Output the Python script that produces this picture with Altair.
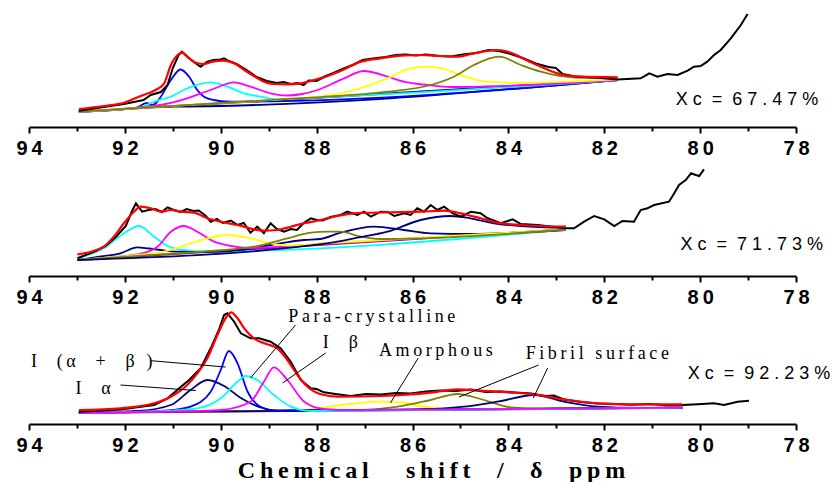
import altair as alt
import pandas as pd

X_DOMAIN = [78, 94]
TICK_VALUES = list(range(78, 95))

# ---------------- top panel (intensity, arbitrary units) ----------------
TOP_EXP = [(92.96,16.3),(92.44,20),(92.02,23),(91.61,27),(91.46,32),(91.25,35),(91.11,42),(91.0,59),
           (90.88,72),(90.81,75.3),(90.71,71),(90.59,66),(90.42,60.3),(90.29,65),(90.15,67),(90.0,67.5),
           (89.93,68.7),(89.83,66),(89.67,63),(89.46,57),(89.25,50),(89.04,46),(88.83,44),(88.69,45),
           (88.54,43),(88.40,44),(88.27,42),(88.17,46.5),(88.0,46),(87.83,50.5),(87.65,54),(87.46,58),
           (87.25,62),(87.04,67),(86.83,68.5),(86.56,70),(86.35,72),(86.14,72.5),(85.93,71.5),(85.72,72.5),
           (85.45,71),(85.20,70.5),(84.95,72.5),(84.68,74),(84.41,77),(84.20,76),(83.95,73),(83.70,69),
           (83.43,63.5),(83.16,60),(83.01,59),(82.87,53),(82.60,50.5),(82.19,49.5),(81.72,47.5),(81.24,48.7),
           (81.06,53.7),(80.89,50.3),(80.68,53),(80.47,52),(80.26,56.3),(80.13,60.3),(79.99,61),(79.85,65.3),
           (79.71,72),(79.57,77),(79.36,88.7),(79.15,102),(79.01,113)]
TOP_FIT = [(92.96,18),(92.44,21),(92.02,24.3),(91.67,31),(91.36,37),(91.18,43.7),(91.04,62),(90.90,72),
           (90.81,74.3),(90.66,68.7),(90.52,64.3),(90.35,63),(90.17,65.3),(89.93,66.3),(89.72,63.7),
           (89.51,57),(89.31,51),(89.10,45.3),(88.89,43),(88.61,42.7),(88.33,43.7),(88.05,47),(87.77,51),
           (87.50,56),(87.08,65.3),(86.66,68.7),(86.25,71.3),(85.83,72),(85.41,71),(85.06,70.3),(84.78,73),
           (84.44,76),(84.23,77),(83.95,74.3),(83.60,66.3),(83.25,58.7),(82.91,52.7),(82.49,50.3),(81.72,49.7)]
TOP_BASE = [(92.96,15.3),(81.72,47.0)]
TOP_NAVY = [(92.96,15.3),(91.95,18.2),(91.75,19.5),(91.55,23.8),(91.40,21.5),(91.2,20.4),(81.72,47.0)]
TOP_BLUE = [(92.96,15.3),(91.8,18.8),(91.5,20.5),(91.35,24),(91.25,30.3),(91.04,47),(90.84,57.5),
            (90.66,50.3),(90.49,37),(90.35,30.3),(90.14,27),(89.93,25.5),(89.6,25.3),(81.72,47)]
TOP_CYAN = [(92.96,15.3),(91.9,18.5),(91.6,21),(91.39,25.3),(91.04,30.3),(90.70,38.7),(90.21,44.7),
            (89.86,40.3),(89.51,33.7),(89.17,30.3),(88.82,27.7),(88.5,28.3),(81.72,47)]
TOP_MAGENTA = [(92.96,15.3),(91.7,19.5),(91.2,22.5),(90.70,28.7),(90.21,37),(89.72,44.7),(89.38,40.3),
               (88.96,33.7),(88.61,31.5),(88.3,33),(87.98,37),(87.43,48.7),(87.01,56),(86.52,50.3),
               (86.18,45.3),(85.69,42),(85.2,40),(84.5,40.5),(81.72,47)]
TOP_YELLOW = [(92.96,15.3),(90,23.8),(88.5,28.3),(87.92,30.5),(87.22,37),(86.52,48.7),(86.11,57.7),
              (85.69,60.3),(85.27,57),(84.85,49.7),(84.44,45.3),(83.74,44.3),(81.72,47.7)]
TOP_OLIVE = [(92.96,15.3),(88.5,28.3),(87.92,29.9),(86.52,35.3),(85.62,42),(85.14,50.3),(84.72,62),
             (84.19,70.3),(83.74,62),(83.32,55.3),(82.91,51),(82.3,49),(81.72,49)]
TOP_XC = ("X c  =  6 7 . 4 7 %", 80.51, 27)

# ---------------- middle panel ----------------
MID_EXP = [(92.99,17.7),(92.82,21),(92.61,25),(92.40,30),(92.19,39),(91.98,50),(91.86,64),(91.77,72.7),
           (91.64,64.3),(91.51,66),(91.36,67),(91.23,64),(91.11,68.7),(90.98,66),(90.84,64),(90.71,67),
           (90.57,65),(90.46,65.5),(90.31,60),(90.21,54.3),(90.08,57),(89.96,53),(89.79,55.5),(89.65,51),
           (89.52,53),(89.38,43.3),(89.24,49.3),(89.10,42.7),(88.96,52.7),(88.83,47),(88.68,44.3),(88.54,47),
           (88.41,46),(88.27,53),(88.12,57.7),(88.0,56),(87.87,55.5),(87.71,59),(87.50,61),(87.36,64.3),
           (87.15,61),(87.01,64.3),(86.87,59.3),(86.66,64.3),(86.52,64),(86.38,60),(86.17,62.7),(86.04,61),
           (85.90,67.7),(85.76,64.3),(85.62,71),(85.48,66),(85.34,69.3),(85.16,62.7),(84.99,59.3),(84.78,64.3),
           (84.58,62.7),(84.44,58),(84.16,52.7),(83.91,56.7),(83.74,52),(83.39,51),(83.12,49.5),(82.80,47.7),
           (82.63,47.7),(82.42,54.3),(82.21,60),(82.0,56.7),(81.79,50),(81.62,55),(81.38,54.3),(81.24,66),
           (81.10,67.7),(80.96,71),(80.65,74.3),(80.54,82.7),(80.44,91),(80.30,96),(80.19,102.7),(80.09,101),
           (80.02,100),(79.92,106.7)]
MID_FIT = [(92.99,21.7),(92.71,24.3),(92.44,29.3),(92.23,39.3),(92.02,52.7),(91.81,64.3),(91.67,69.3),
           (91.46,67.7),(91.25,64.3),(91.04,66),(90.83,64.3),(90.56,63.3),(90.28,57.7),(90.0,54.3),
           (89.65,51),(89.31,46.7),(89.10,45.3),(88.82,46),(88.54,49.3),(88.26,52.7),(87.91,56),(87.57,60),
           (87.22,62.7),(86.52,63.7),(85.83,64.3),(85.34,65.3),(85.0,62.7),(84.58,57.7),(84.23,53.3),
           (83.74,51),(82.80,49.3)]
MID_BASE = [(92.99,16),(82.80,46.5)]
MID_CYAN = [(92.99,17.7),(92.44,27.7),(92.02,42.7),(91.70,50),(91.39,39.3),(91.11,30),(90.77,26),
            (90.4,24.5),(82.8,46.5)]
MID_NAVY = [(92.99,16),(92.5,19.5),(92.09,22.7),(91.74,28.7),(91.5,27.5),(91.25,26),(90.90,24.3),
            (90.42,24),(89.5,26.5),(88.96,31),(88.26,36),(87.92,37),(87.50,43.3),(86.80,49.3),(86.18,46),
            (85.62,42.7),(84.79,42),(82.8,46)]
MID_MAGENTA = [(92.99,16),(92.0,20),(91.74,21.5),(91.32,29.3),(91.04,44.3),(90.77,50),(90.49,44.3),
               (90.14,34.3),(89.79,30),(89.38,28),(88.5,30),(87,34.5),(82.8,46.5)]
MID_YELLOW = [(92.99,16),(92.09,19.5),(91.04,26),(90.35,36.7),(89.86,41),(89.38,37.7),(88.96,32.7),
              (88.54,30.5),(87.92,32.5),(82.8,46.7)]
MID_OLIVE = [(92.99,16),(90.5,24),(89.8,26.5),(89.31,29.3),(88.61,37.7),(88.12,43.3),(87.77,44.3),
             (87.50,44.3),(87.08,39.3),(86.66,37),(85.83,37.7),(82.8,46.5)]
MID_PURPLE = [(92.99,16),(88,31.3),(87.57,34.3),(87.22,37.7),(86.52,44.3),(85.83,56),(85.21,60),
              (84.79,57.7),(84.30,52.7),(83.74,50),(82.8,48.3)]
MID_XC = ("X c  =  7 1 . 7 3 %", 80.41, 31)

# ---------------- bottom panel ----------------
BOT_EXP = [(92.96,12.3),(92.09,14.5),(91.39,19),(91.11,25.7),(90.83,37.3),(90.66,44),(90.42,55.7),
           (90.21,75.7),(90.04,94),(89.93,109),(89.86,110.7),(89.72,102.3),(89.58,90.7),(89.38,85.7),
           (89.20,85.7),(89.08,84),(88.96,82.3),(88.75,75.7),(88.54,62.3),(88.33,44),(88.12,35.7),(88.0,35),
           (87.85,31.7),(87.57,29.7),(87.29,28),(86.97,30),(86.66,29.5),(86.35,31),(86.04,30.5),(85.72,32.5),
           (85.41,33.5),(85.10,33),(84.78,34.5),(84.47,32),(84.16,32.5),(83.85,31.5),(83.53,30.5),(83.22,28),
           (83.05,28.5),(82.84,24.5),(82.49,22),(82.14,20.5),(81.76,20),(81.45,19.2),(81.03,20),(80.72,18.7),
           (80.37,19),(80.05,19.7),(79.71,20.7),(79.50,19),(79.22,22.3),(78.98,23.3)]
BOT_FIT = [(92.96,14),(92.09,15.7),(91.39,20.7),(91.04,27.3),(90.70,39),(90.49,50.7),(90.28,65.7),
           (90.07,89),(89.90,105.7),(89.78,111.7),(89.65,105.7),(89.51,95.7),(89.31,85.7),(89.03,79.7),
           (88.82,75.7),(88.61,64),(88.40,49),(88.19,37.3),(87.91,29.7),(87.57,27.3),(86.66,28),(85.62,31.3),
           (85.06,34.7),(84.58,33.3),(83.88,31.3),(83.53,30),(82.84,24.7),(82.14,20.7),(81.45,19.7),(80.37,19.7)]
BOT_BASE = [(92.96,11.3),(80.37,16.3)]
BOT_PURPLE = [(92.96,11.3),(91.74,13),(91.04,19),(90.63,34),(90.28,44),(89.93,38),(89.58,26),(89.17,16.5),
              (88.8,13.5),(80.37,16.3)]
BOT_BLUE = [(92.96,11.3),(91.5,12.5),(91.0,14),(90.63,17.3),(90.21,32.3),(90.0,54),(89.83,73),(89.65,60.7),
            (89.44,32.3),(89.17,17.3),(88.82,13),(80.37,16.3)]
BOT_CYAN = [(92.96,11.3),(91.5,12.5),(90.49,15.7),(90.0,25.7),(89.65,42.3),(89.48,48),(89.24,44),(88.89,29),
            (88.54,17.3),(88.12,13),(80.37,16.3)]
BOT_MAGENTA = [(92.96,11.3),(90.5,13),(90.0,14),(89.38,22.3),(89.10,42.3),(88.89,56.7),(88.61,44),
               (88.26,22.3),(87.85,15),(87.3,13.8),(80.37,16.3)]
BOT_YELLOW = [(92.96,11.3),(88.5,13.5),(88.0,15.5),(87.64,18),(87.2,20.5),(86.66,22.3),(86.2,21.5),
              (85.97,19),(85.62,16.7),(85.0,15),(80.37,16.3)]
BOT_OLIVE = [(92.96,11.3),(87,14),(86.31,17.3),(85.62,24),(85.06,30),(84.51,24),(83.95,16.7),(83.3,15.3),
             (80.37,16.3)]
BOT_NAVY = [(92.96,11.3),(86,14.3),(84.92,17.3),(84.23,22.3),(83.46,29),(82.84,22.3),(82.14,17.3),
            (81.3,16),(80.37,16)]
BOT_XC = ("X c  =  9 2 . 2 3 %", 80.26, 50)

BOT_LABEL_TEXT = ["Para-crystalline", "I  β", "I  (α  +  β )", "I  α", "Amorphous", "Fibril surface"]
BOT_LABEL_X = [88.59, 87.87, 93.96, 93.03, 86.70, 83.64]
BOT_LABEL_Y = [107, 81, 62, 35, 73, 70]
BOT_LEADERS = [(91.46,63.3,89.90,57),(92.09,39,90.52,33.5),(88.44,99,89.38,46),(87.81,71,88.71,41),
               (85.88,66,86.46,21),(83.37,59,85.03,27),(83.18,56,83.48,26)]
X_TITLE = "Chemical   shift  /  δ  ppm"

COLORS = {"navy": "#000080", "blue": "#0000FF", "cyan": "#00FFFF", "magenta": "#FF00FF",
          "yellow": "#FFFF00", "olive": "#808000", "purple": "#800080"}

W = 767
SANS = "Liberation Sans"
SERIF = "Liberation Serif"
THIN = "\u2009"
NBSP = "\u00a0"


def keep_spaces(s):
    return s.replace(" ", NBSP)


def spaced(text):
    # letter-spaced text; word gaps kept as non-breaking spaces
    return THIN.join(list(text)).replace(" ", NBSP)


def frame(curves):
    rows = []
    for name, pts in curves:
        for x, y in pts:
            rows.append({"ppm": x, "inten": y, "curve": name})
    return pd.DataFrame(rows)


def panel(comps, base, base_color, exp, fit, height, xc, bottom=False):
    xs = alt.Scale(domain=X_DOMAIN, reverse=True, nice=False, zero=False)
    ys = alt.Scale(domain=[0, height], nice=False, zero=False)
    axis_kw = dict(
        values=TICK_VALUES,
        labelExpr="datum.value % 2 === 0 ? slice(datum.label,0,1) + '" + THIN + "' + slice(datum.label,1) : ''",
        tickSize={"condition": {"test": "datum.value % 2 === 0", "value": 6}, "value": 4},
        tickWidth=2, domainWidth=2, domainColor="black", tickColor="black",
        labelFont=SANS, labelFontSize=20, labelFontWeight="bold", labelColor="black",
        labelPadding=5, grid=False, labelOverlap=False, labelFlush=False,
    )
    if bottom:
        axis_kw.update(title=spaced(X_TITLE), titleFont=SERIF, titleFontSize=24, titleFontWeight="bold",
                       titleColor="black", titleX=402, titleY=53, titleAlign="center",
                       titleBaseline="alphabetic", titleAngle=0)
    else:
        axis_kw.update(title=None)
    X = alt.X("ppm:Q", scale=xs, axis=alt.Axis(**axis_kw))
    Y = alt.Y("inten:Q", scale=ys, axis=None)

    names = [c[0] for c in comps]
    cols = [COLORS[c[1]] for c in comps]
    layers = [
        alt.Chart(frame([("base", base)])).mark_line(color=COLORS[base_color], strokeWidth=2).encode(x=X, y=Y),
        alt.Chart(frame([(c[0], c[2]) for c in comps])).mark_line(interpolate="monotone", strokeWidth=1.8).encode(
            x=X, y=Y, detail="curve:N",
            color=alt.Color("curve:N", scale=alt.Scale(domain=names, range=cols), legend=None)),
        alt.Chart(frame([("exp", exp)])).mark_line(color="black", strokeWidth=2).encode(x=X, y=Y),
        alt.Chart(frame([("fit", fit)])).mark_line(color="#FF0000", strokeWidth=2.2, interpolate="monotone").encode(x=X, y=Y),
        alt.Chart(pd.DataFrame({"ppm": [xc[1]], "inten": [xc[2]], "label": [keep_spaces(xc[0])]})).mark_text(
            align="left", baseline="middle", font=SANS, fontSize=18, color="black").encode(
            x=alt.X("ppm:Q", scale=xs), y=alt.Y("inten:Q", scale=ys), text="label:N"),
    ]
    if bottom:
        lead = pd.DataFrame(BOT_LEADERS, columns=["x1", "y1", "x2", "y2"])
        layers.append(alt.Chart(lead).mark_rule(color="black", strokeWidth=1).encode(
            x=alt.X("x1:Q", scale=xs), y=alt.Y("y1:Q", scale=ys), x2="x2:Q", y2="y2:Q"))
        lab = pd.DataFrame({"ppm": BOT_LABEL_X, "inten": BOT_LABEL_Y,
                            "label": [spaced(t) for t in BOT_LABEL_TEXT]})
        layers.append(alt.Chart(lab).mark_text(align="left", baseline="middle", font=SERIF, fontSize=18,
                                               color="black").encode(
            x=alt.X("ppm:Q", scale=xs), y=alt.Y("inten:Q", scale=ys), text="label:N"))
    return alt.layer(*layers).properties(width=W, height=height)


top = panel([("navy", "navy", TOP_NAVY), ("blue", "blue", TOP_BLUE), ("cyan", "cyan", TOP_CYAN),
             ("magenta", "magenta", TOP_MAGENTA), ("yellow", "yellow", TOP_YELLOW), ("olive", "olive", TOP_OLIVE)],
            TOP_BASE, "navy", TOP_EXP, TOP_FIT, 127, TOP_XC)
mid = panel([("cyan", "cyan", MID_CYAN), ("navy", "navy", MID_NAVY), ("magenta", "magenta", MID_MAGENTA),
             ("yellow", "yellow", MID_YELLOW), ("olive", "olive", MID_OLIVE), ("purple", "purple", MID_PURPLE)],
            MID_BASE, "purple", MID_EXP, MID_FIT, 149, MID_XC)
bot = panel([("yellow", "yellow", BOT_YELLOW), ("olive", "olive", BOT_OLIVE), ("navy", "navy", BOT_NAVY),
             ("purple", "purple", BOT_PURPLE), ("blue", "blue", BOT_BLUE), ("cyan", "cyan", BOT_CYAN),
             ("magenta", "magenta", BOT_MAGENTA)],
            BOT_BASE, "purple", BOT_EXP, BOT_FIT, 148, BOT_XC, bottom=True)

chart = alt.vconcat(top, mid, bot, spacing=0, bounds="flush").properties(
    padding={"left": 15, "top": 0, "right": 3, "bottom": 0},
    background="white",
).configure_view(strokeWidth=0)

chart.save("out.html", embed_options={"renderer": "svg", "actions": False})
